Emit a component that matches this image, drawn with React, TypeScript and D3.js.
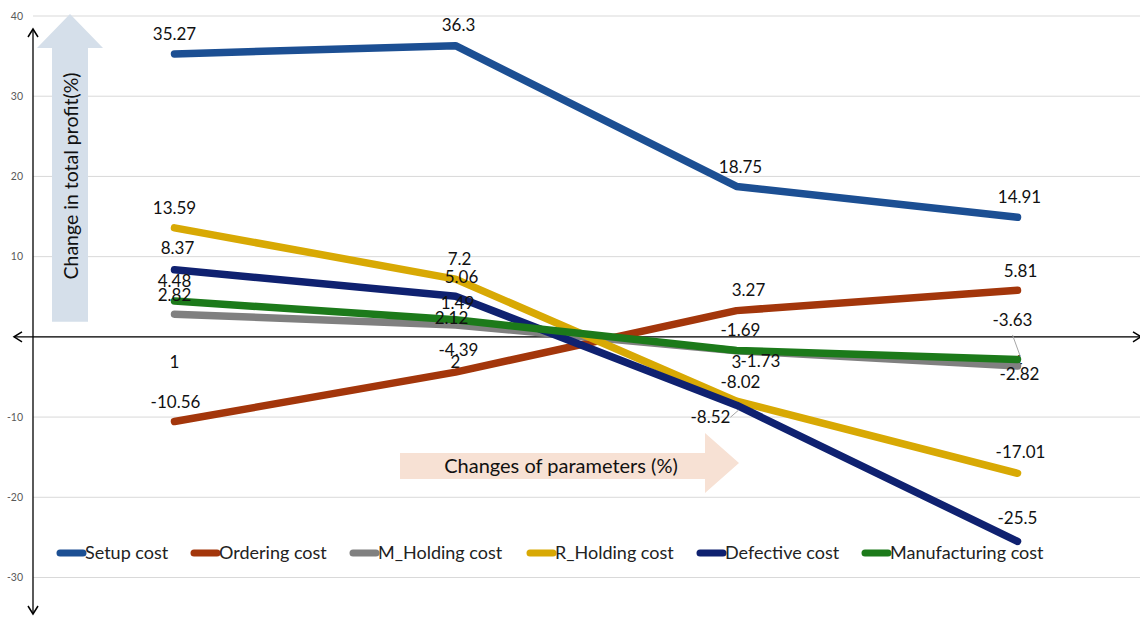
import { useRef, useEffect } from 'react'
import * as d3 from 'd3'

const categories = ['1', '2', '3', '4']
const seriesNames = ['Setup cost', 'Ordering cost', 'M_Holding cost', 'R_Holding cost', 'Defective cost', 'Manufacturing cost']
const setupCost = [35.27, 36.3, 18.75, 14.91]
const orderingCost = [-10.56, -4.39, 3.27, 5.81]
const mHoldingCost = [2.82, 1.49, -1.73, -3.63]
const rHoldingCost = [13.59, 7.2, -8.02, -17.01]
const defectiveCost = [8.37, 5.06, -8.52, -25.5]
const manufacturingCost = [4.48, 2.12, -1.69, -2.82]
const yTicks = [-30, -20, -10, 0, 10, 20, 30, 40]

const colors = ['#1c4f93', '#a3360b', '#808080', '#d8a904', '#0f2170', '#1c7a1a']
// label offsets from each point (text centre), Excel-style placement
const labelOffsets: [number, number][][] = [
  [[0, -20], [3, -21], [4, -19], [2, -20]],
  [[1, -20], [3, -22], [12, -21], [3, -19]],
  [[0, -19], [2, -22], [24, 10], [-5, -46]],
  [[0, -20], [4, -20], [4, -19], [3, -21]],
  [[3, -22], [6, -19], [-26, 12], [0, -23]],
  [[0, -20], [-4, -2], [4, -20], [2, 15]],
]

export default function App() {
  const ref = useRef<SVGSVGElement>(null)

  useEffect(() => {
    if (!ref.current) return
    const svg = d3.select(ref.current)
    svg.selectAll('*').remove()

    const font = 'Lato, "Open Sans", sans-serif'
    const values = [setupCost, orderingCost, mHoldingCost, rHoldingCost, defectiveCost, manufacturingCost]

    const x = d3.scalePoint<string>().domain(categories).range([34, 1158]).padding(0.5)
    const y = d3.scaleLinear().domain([-30, 40]).range([577.5, 16])
    const axisX = 33

    // gridlines
    svg.append('g')
      .selectAll('line')
      .data(yTicks)
      .join('line')
      .attr('x1', axisX)
      .attr('x2', 1140)
      .attr('y1', (d) => y(d))
      .attr('y2', (d) => y(d))
      .attr('stroke', '#d9d9d9')
      .attr('stroke-width', 1)

    // tick labels
    svg.append('g')
      .selectAll('text')
      .data(yTicks)
      .join('text')
      .attr('x', 23)
      .attr('y', (d) => y(d))
      .attr('dy', '0.35em')
      .attr('text-anchor', 'end')
      .attr('font-family', font)
      .attr('font-size', 10.5)
      .attr('fill', '#595959')
      .text((d) => (d === 0 ? '' : d))

    // up arrow (background)
    const y0 = y(0)
    svg.append('path')
      .attr('d', `M52,${y0 - 15} L52,48 L37,48 L70,14 L103,48 L88,48 L88,${y0 - 15} Z`)
      .attr('fill', '#d5dfea')
    svg.append('text')
      .attr('transform', `translate(78,176) rotate(-90)`)
      .attr('text-anchor', 'middle')
      .attr('font-family', font)
      .attr('font-size', 19.5)
      .attr('fill', '#111')
      .text('Change in total profit(%)')

    // right arrow (background)
    svg.append('path')
      .attr('d', 'M400,453 L705,453 L705,433 L739,463 L705,493 L705,479 L400,479 Z')
      .attr('fill', '#f7e1d4')
    svg.append('text')
      .attr('x', 561)
      .attr('y', 466)
      .attr('dy', '0.35em')
      .attr('text-anchor', 'middle')
      .attr('font-family', font)
      .attr('font-size', 20)
      .attr('fill', '#111')
      .text('Changes of parameters (%)')

    // axes with arrowheads
    svg.append('line')
      .attr('x1', 14).attr('x2', 1140).attr('y1', y0).attr('y2', y0)
      .attr('stroke', '#000').attr('stroke-width', 1.3)
    svg.append('path')
      .attr('d', `M22,${y0 - 5} L14,${y0} L22,${y0 + 5}`)
      .attr('fill', 'none').attr('stroke', '#000').attr('stroke-width', 1.5)
    svg.append('path')
      .attr('d', `M1133,${y0 - 5} L1141,${y0} L1133,${y0 + 5}`)
      .attr('fill', 'none').attr('stroke', '#000').attr('stroke-width', 1.5)
    svg.append('line')
      .attr('x1', axisX).attr('x2', axisX).attr('y1', 29).attr('y2', 614)
      .attr('stroke', '#000').attr('stroke-width', 1.3)
    svg.append('path')
      .attr('d', `M${axisX - 5},37 L${axisX},29 L${axisX + 5},37`)
      .attr('fill', 'none').attr('stroke', '#000').attr('stroke-width', 1.5)
    svg.append('path')
      .attr('d', `M${axisX - 5},606 L${axisX},614 L${axisX + 5},606`)
      .attr('fill', 'none').attr('stroke', '#000').attr('stroke-width', 1.5)

    // category labels
    svg.append('g')
      .selectAll('text')
      .data(categories)
      .join('text')
      .attr('x', (d) => x(d)!)
      .attr('y', y0 + 25)
      .attr('dy', '0.35em')
      .attr('text-anchor', 'middle')
      .attr('font-family', font)
      .attr('font-size', 17)
      .attr('fill', '#111')
      .text((d) => d)

    // lines
    const line = d3.line<number>()
      .x((_, i) => x(categories[i])!)
      .y((d) => y(d))

    values.forEach((vals, s) => {
      svg.append('path')
        .datum(vals)
        .attr('d', line)
        .attr('fill', 'none')
        .attr('stroke', colors[s])
        .attr('stroke-width', 7.5)
        .attr('stroke-linecap', 'round')
        .attr('stroke-linejoin', 'round')
    })

    // leader lines for displaced labels
    const leaders: [number, number, number, number][] = [
      [x('3')! - 6, y(defectiveCost[2]) + 12, x('3')! + 2, y(defectiveCost[2]) + 5],
      [x('4')! - 5, y(mHoldingCost[3]) - 31, x('4')! + 3, y(mHoldingCost[3]) - 9],
    ]
    svg.append('g')
      .selectAll('line')
      .data(leaders)
      .join('line')
      .attr('x1', (d) => d[0]).attr('y1', (d) => d[1])
      .attr('x2', (d) => d[2]).attr('y2', (d) => d[3])
      .attr('stroke', '#a6a6a6').attr('stroke-width', 1)

    // data labels
    values.forEach((vals, s) => {
      vals.forEach((v, i) => {
        const [dx, dy] = labelOffsets[s][i]
        svg.append('text')
          .attr('x', x(categories[i])! + dx)
          .attr('y', y(v) + dy)
          .attr('dy', '0.35em')
          .attr('text-anchor', 'middle')
          .attr('font-family', font)
          .attr('font-size', 17)
          .attr('fill', '#111')
          .text(v)
      })
    })

    // legend
    const legendX = [57, 191, 350, 527, 697, 862]
    const ly = 553
    const legend = svg.append('g')
    seriesNames.forEach((name, s) => {
      legend.append('line')
        .attr('x1', legendX[s] + 3).attr('x2', legendX[s] + 26)
        .attr('y1', ly).attr('y2', ly)
        .attr('stroke', colors[s]).attr('stroke-width', 7)
        .attr('stroke-linecap', 'round')
      legend.append('text')
        .attr('x', legendX[s] + 28)
        .attr('y', ly)
        .attr('dy', '0.35em')
        .attr('font-family', font)
        .attr('font-size', 18)
        .attr('fill', '#222')
        .text(name)
    })
  }, [])

  return (
    <svg
      ref={ref}
      width={1140}
      height={618}
      style={{ position: 'absolute', left: 0, top: 0, background: '#fff' }}
    />
  )
}
